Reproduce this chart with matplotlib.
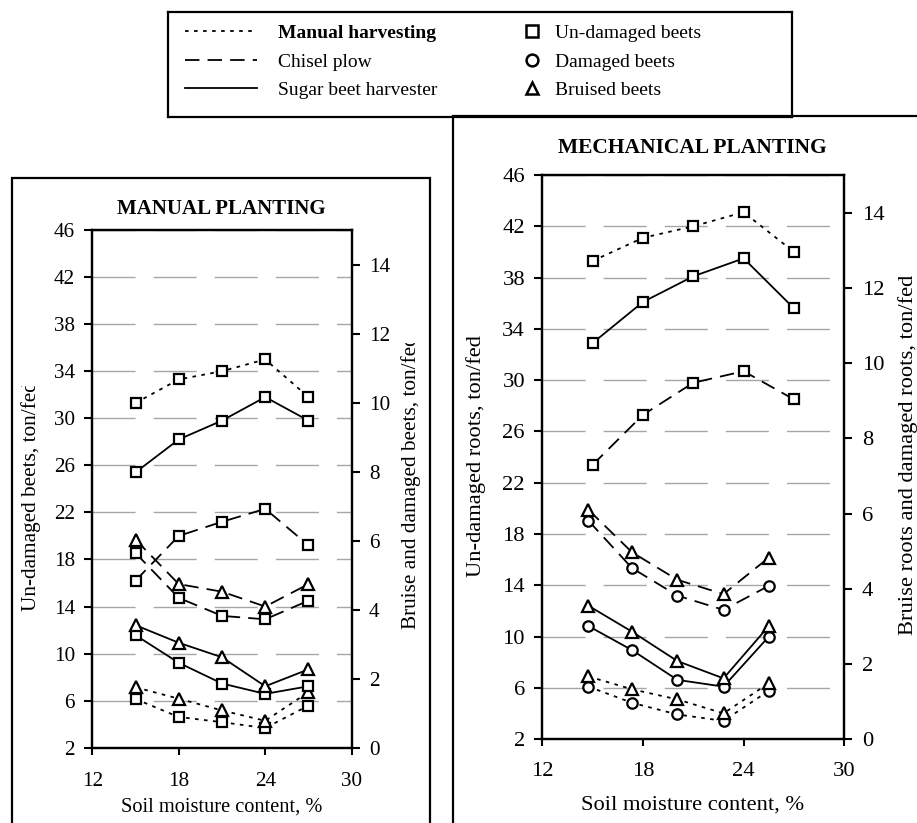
import matplotlib
matplotlib.use('Agg')
import matplotlib.pyplot as plt
from matplotlib.lines import Line2D
from matplotlib.patches import Rectangle
from matplotlib.transforms import Bbox, TransformedBbox

plt.rcParams['font.family'] = ['Liberation Serif', 'DejaVu Serif']

# ---------------- data ----------------
moisture = [15, 18, 21, 24, 27]
moisture_mech_dmg = [14.75, 17.35, 20.05, 22.8, 25.5]   # as plotted on secondary series

# Manual planting (left panel)
man_und_manual = [31.3, 33.3, 34.0, 35.0, 31.8]
man_und_chisel = [16.2, 20.0, 21.2, 22.3, 19.2]
man_und_sbh = [25.4, 28.2, 29.8, 31.8, 29.8]
man_dmg_manual = [1.41, 0.89, 0.74, 0.57, 1.22]
man_dmg_chisel = [5.64, 4.34, 3.82, 3.72, 4.26]
man_dmg_sbh = [3.26, 2.46, 1.86, 1.56, 1.78]
man_brs_manual = [1.75, 1.42, 1.08, 0.78, 1.61]
man_brs_chisel = [6.03, 4.74, 4.52, 4.09, 4.74]
man_brs_sbh = [3.55, 3.04, 2.62, 1.78, 2.27]

# Mechanical planting (right panel)
mech_und_manual = [39.3, 41.1, 42.0, 43.1, 40.0]
mech_und_chisel = [23.4, 27.3, 29.8, 30.7, 28.5]
mech_und_sbh = [32.9, 36.1, 38.1, 39.5, 35.6]
mech_dmg_manual = [1.40, 0.97, 0.66, 0.49, 1.29]
mech_dmg_chisel = [5.81, 4.55, 3.82, 3.44, 4.08]
mech_dmg_sbh = [3.01, 2.37, 1.58, 1.40, 2.73]
mech_brs_manual = [1.67, 1.33, 1.06, 0.69, 1.49]
mech_brs_chisel = [6.10, 4.97, 4.24, 3.86, 4.83]
mech_brs_sbh = [3.55, 2.86, 2.08, 1.62, 3.01]

x_ticks = [12, 18, 24, 30]
y_left_ticks = [2, 6, 10, 14, 18, 22, 26, 30, 34, 38, 42, 46]
y_right_ticks = [0, 2, 4, 6, 8, 10, 12, 14]

methods = ['Manual harvesting', 'Chisel plow', 'Sugar beet harvester']
beet_types = ['Un-damaged beets', 'Damaged beets', 'Bruised beets']

# ---------------- styles ----------------
LW = 1.3
styles = {
    'Manual harvesting': (0, (2, 3)),
    'Chisel plow': (0, (8, 4.5)),
    'Sugar beet harvester': '-',
}

W, H = 917, 823
fig = plt.figure(figsize=(W / 100, H / 100), dpi=100)


def fx(px):
    return px / W


def fy(py):
    return 1 - py / H


def panel(rect, und, dmg, brs, x_dmg, dmg_marker, fs_tick, xpad):
    ax = fig.add_axes(rect)
    ax2 = ax.twinx()
    ax.set_xlim(12, 30)
    ax.set_ylim(2, 46)
    ax2.set_ylim(0, 15)
    ax.set_xticks(x_ticks)
    ax.set_yticks(y_left_ticks)
    ax2.set_yticks(y_right_ticks)
    ax.set_axisbelow(True)
    ax.yaxis.grid(True, color='#a6a6a6', lw=1.0, linestyle=(0, (31, 13)))
    for a in (ax, ax2):
        for s in a.spines.values():
            s.set_linewidth(1.6)
        a.tick_params(direction='out', length=6, width=1.5, labelsize=fs_tick, pad=6.5)
    ax.tick_params(axis='x', pad=xpad, length=5)
    ax.tick_params(axis='y', right=False)
    for m, yu, yd, yb in zip(methods, und, dmg, brs):
        ls = styles[m]
        ax.plot(moisture, yu, linestyle=ls, color='black', lw=LW, marker='s',
                ms=7, mew=1.6, mfc='white', mec='black', zorder=3)
        ax2.plot(x_dmg, yd, linestyle=ls, color='black', lw=LW, marker=dmg_marker,
                 ms=7.5, mew=1.6, mfc='white', mec='black', zorder=3)
        ax2.plot(x_dmg, yb, linestyle=ls, color='black', lw=LW, marker='^',
                 ms=8, mew=1.6, mfc='white', mec='black', zorder=3)
    return ax, ax2


# Left panel: manual planting
axL, axL2 = panel([fx(92.3), fy(747.7), fx(351.7) - fx(92.3), fy(230) - fy(747.7)],
                  [man_und_manual, man_und_chisel, man_und_sbh],
                  [man_dmg_manual, man_dmg_chisel, man_dmg_sbh],
                  [man_brs_manual, man_brs_chisel, man_brs_sbh],
                  moisture, 's', 15.2, 12.2)

# Right panel: mechanical planting
axR, axR2 = panel([fx(542.3), fy(739.3), fx(844.3) - fx(542.3), fy(175) - fy(739.3)],
                  [mech_und_manual, mech_und_chisel, mech_und_sbh],
                  [mech_dmg_manual, mech_dmg_chisel, mech_dmg_sbh],
                  [mech_brs_manual, mech_brs_chisel, mech_brs_sbh],
                  moisture_mech_dmg, 'o', 16.2, 11.2)

# Titles and labels
fig.text(fx(221), fy(209), 'MANUAL PLANTING', weight='bold', fontsize=15,
         ha='center', va='center')
fig.text(fx(692), fy(148), 'MECHANICAL PLANTING', weight='bold', fontsize=15.5,
         ha='center', va='center')
fig.text(fx(222), fy(806.7), 'Soil moisture content, %', fontsize=14.7,
         ha='center', va='center')
fig.text(fx(692.5), fy(805), 'Soil moisture content, %', fontsize=16.2,
         ha='center', va='center')

tl = fig.text(fx(31), fy(611), 'Un-damaged beets, ton/fed', fontsize=15.3,
              rotation=90, ha='center', va='bottom')
tl.set_clip_box(TransformedBbox(Bbox([[0, 0], [1, fy(386)]]), fig.transFigure))
tr = fig.text(fx(411), fy(629), 'Bruise and damaged beets, ton/fed', fontsize=15.3,
              rotation=90, ha='center', va='bottom')
tr.set_clip_box(TransformedBbox(Bbox([[0, 0], [1, fy(343)]]), fig.transFigure))

fig.text(fx(476), fy(456), 'Un-damaged roots, ton/fed', fontsize=16.2,
         rotation=90, ha='center', va='center')
fig.text(fx(908), fy(455), 'Bruise roots and damaged roots, ton/fed', fontsize=16.2,
         rotation=90, ha='center', va='center')

# Panel frames
fig.patches.append(Rectangle((fx(11.7), -0.05), fx(430) - fx(11.7), fy(178.3) + 0.05,
                             transform=fig.transFigure, fill=False, lw=1.6, ec='black'))
fig.patches.append(Rectangle((fx(453), -0.05), 0.6, fy(116) + 0.05,
                             transform=fig.transFigure, fill=False, lw=1.6, ec='black'))

# Legend box
axLeg = fig.add_axes([fx(168), fy(117), fx(792) - fx(168), fy(12) - fy(117)])
axLeg.set_xticks([])
axLeg.set_yticks([])
for s in axLeg.spines.values():
    s.set_linewidth(1.6)

line_handles = [Line2D([], [], color='black', lw=LW, linestyle=styles[m]) for m in methods]
leg1 = axLeg.legend(line_handles, methods, loc='upper left', bbox_to_anchor=(0.027, 0.88),
                    frameon=False, fontsize=14, handlelength=3.7, handletextpad=1.1,
                    labelspacing=0.56, borderpad=0, borderaxespad=0)
leg1.get_texts()[0].set_fontweight('bold')
axLeg.add_artist(leg1)
marker_handles = [Line2D([], [], color='black', linestyle='none', marker=mk, ms=8.5,
                         mew=1.8, mfc='white', mec='black') for mk in ['s', 'o', '^']]
leg2 = axLeg.legend(marker_handles, beet_types, loc='upper left', bbox_to_anchor=(0.567, 0.88),
                    frameon=False, fontsize=14, handlelength=1.0, handletextpad=0.7,
                    labelspacing=0.56, borderpad=0, borderaxespad=0)

fig.savefig('out.png', dpi=100)
